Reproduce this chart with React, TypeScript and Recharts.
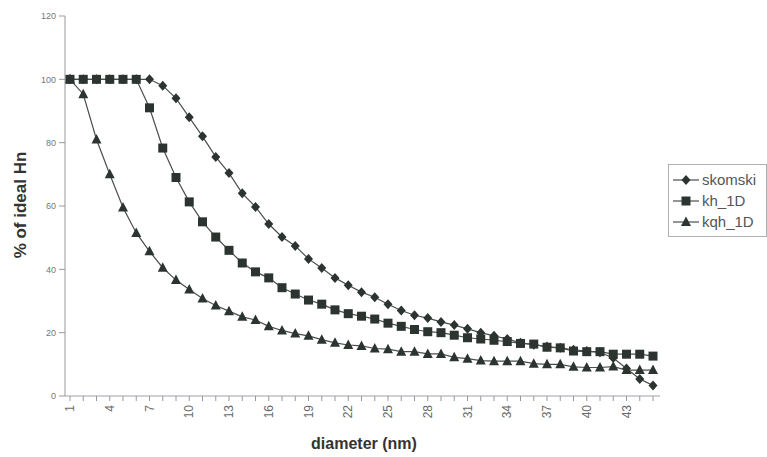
import { Legend, Line, LineChart, XAxis, YAxis } from "recharts";

const DIAMETERS = [
  1, 2, 3, 4, 5, 6, 7, 8, 9, 10, 11, 12, 13, 14, 15, 16, 17, 18, 19, 20, 21, 22,
  23, 24, 25, 26, 27, 28, 29, 30, 31, 32, 33, 34, 35, 36, 37, 38, 39, 40, 41, 42,
  43, 44, 45,
];

const SKOMSKI = [
  100, 100, 100, 100, 100, 100, 100, 98, 94, 88, 82, 75.5, 70.4, 64, 59.7, 54.3,
  50.2, 47.4, 43.3, 40.4, 37.3, 35, 32.8, 31.2, 29, 27, 25.5, 24.6, 23.4, 22.4,
  21.2, 20, 19, 18, 16.8, 16.2, 15.6, 15.2, 14.6, 14.2, 13.8, 12, 8.7, 5.4, 3.3,
];

const KH_1D = [
  100, 100, 100, 100, 100, 100, 91, 78.3, 69, 61.3, 55, 50.2, 46, 42, 39.2, 37.3,
  34.2, 32.2, 30.3, 29, 27.2, 26, 25.2, 24.3, 23, 22, 21, 20.3, 20, 19.2, 18.4,
  18, 17.6, 17.2, 16.6, 16.4, 15.4, 15.2, 14.2, 14, 14, 13.2, 13.2, 13.2, 12.6,
];

const KQH_1D = [
  100, 95.3, 81, 70, 59.5, 51.5, 45.7, 40.5, 36.6, 33.6, 30.8, 28.6, 26.8, 25,
  24, 22, 20.7, 19.7, 19, 17.8, 16.8, 16.1, 15.8, 15, 14.8, 14, 14, 13.3, 13.3,
  12.2, 11.8, 11.2, 11, 11, 11, 10.2, 10, 10, 9.2, 9, 9, 9.3, 8.2, 8.2, 8.2,
];

const Y_TICKS = [0, 20, 40, 60, 80, 100, 120];

const MARK = "#2c3430";
const LINE = "#4a4f4c";
const FONT = "'Liberation Sans', Arial, sans-serif";

const data = DIAMETERS.map((d, i) => ({
  d,
  skomski: SKOMSKI[i],
  kh_1D: KH_1D[i],
  kqh_1D: KQH_1D[i],
}));

type Shape = "diamond" | "square" | "triangle";

function Marker({ cx, cy, shape }: { cx: number; cy: number; shape: Shape }) {
  if (shape === "diamond") {
    return (
      <polygon
        points={`${cx},${cy - 5} ${cx + 4.5},${cy} ${cx},${cy + 5} ${cx - 4.5},${cy}`}
        fill={MARK}
      />
    );
  }
  if (shape === "square") {
    return <rect x={cx - 4.5} y={cy - 4.5} width={9} height={9} fill={MARK} />;
  }
  return (
    <polygon
      points={`${cx},${cy - 5.5} ${cx + 5},${cy + 4} ${cx - 5},${cy + 4}`}
      fill={MARK}
    />
  );
}

function dotFor(shape: Shape) {
  return (props: any) => {
    if (props.cx == null || props.cy == null) return <g key={props.index} />;
    return (
      <Marker key={props.index} cx={props.cx} cy={props.cy} shape={shape} />
    );
  };
}

const SERIES: { key: string; shape: Shape }[] = [
  { key: "skomski", shape: "diamond" },
  { key: "kh_1D", shape: "square" },
  { key: "kqh_1D", shape: "triangle" },
];

function XTick(props: any) {
  const { x, y, payload, index } = props;
  if (index % 3 !== 0) return <g />;
  return (
    <text
      x={x}
      y={y + 2}
      transform={`rotate(-90 ${x} ${y + 2})`}
      textAnchor="end"
      dy="0.35em"
      fontSize={12}
      fontFamily={FONT}
      fill="#6a6a6a"
    >
      {payload.value}
    </text>
  );
}

function XTitle() {
  return (
    <text
      x={364}
      y={449}
      textAnchor="middle"
      fontSize={16}
      fontWeight="bold"
      fontFamily={FONT}
      fill="#333"
    >
      diameter (nm)
    </text>
  );
}

function YTitle() {
  return (
    <text
      x={20}
      y={205}
      transform="rotate(-90 20 205)"
      textAnchor="middle"
      dy="0.35em"
      fontSize={17}
      fontWeight="bold"
      fontFamily={FONT}
      fill="#333"
    >
      % of ideal Hn
    </text>
  );
}

function LegendBox() {
  return (
    <div
      style={{
        border: "1px solid #b0b0b0",
        padding: "4px 6px 4px 4px",
        fontFamily: FONT,
        fontSize: 15,
        color: "#555",
        background: "#fff",
      }}
    >
      {SERIES.map((s) => (
        <div
          key={s.key}
          style={{ display: "flex", alignItems: "center", height: 21 }}
        >
          <svg width={26} height={14} style={{ marginRight: 3 }}>
            <line x1={0} y1={7} x2={26} y2={7} stroke={LINE} strokeWidth={1.2} />
            <Marker cx={13} cy={7} shape={s.shape} />
          </svg>
          <span>{s.key}</span>
        </div>
      ))}
    </div>
  );
}

export default function App() {
  return (
    <div
      style={{ position: "absolute", left: 0, top: 0, background: "#fff" }}
    >
      <LineChart
        width={767}
        height={457}
        data={data}
        margin={{ top: 16, right: 107, bottom: 0, left: 0 }}
      >
        <XAxis
          dataKey="d"
          scale="point"
          interval={0}
          padding={{ left: 5, right: 7 }}
          height={61}
          tickSize={5}
          tickLine={{ stroke: "#999" }}
          axisLine={{ stroke: "#a0a0a8" }}
          tick={<XTick />}
          label={<XTitle />}
        />
        <XAxis
          xAxisId="top"
          orientation="top"
          height={0}
          tick={false}
          tickLine={false}
          axisLine={{ stroke: "#8e8ec4" }}
        />
        <YAxis
          domain={[0, 120]}
          ticks={Y_TICKS}
          interval={0}
          width={65}
          tickSize={6}
          tickMargin={3}
          tickLine={{ stroke: "#999" }}
          axisLine={{ stroke: "#999" }}
          tick={{ fontSize: 9, fill: "#777", fontFamily: FONT }}
          label={<YTitle />}
        />
        <YAxis
          yAxisId="right"
          orientation="right"
          width={0}
          tick={false}
          tickLine={false}
          axisLine={{ stroke: "#bcbcbc" }}
        />
        <Legend
          layout="vertical"
          align="center"
          verticalAlign="middle"
          wrapperStyle={{ left: 668, top: 164, width: 99 }}
          content={<LegendBox />}
        />
        {SERIES.map((s) => (
          <Line
            key={s.key}
            dataKey={s.key}
            type="linear"
            stroke={LINE}
            strokeWidth={1.2}
            dot={dotFor(s.shape)}
            activeDot={false}
            isAnimationActive={false}
          />
        ))}
      </LineChart>
    </div>
  );
}
